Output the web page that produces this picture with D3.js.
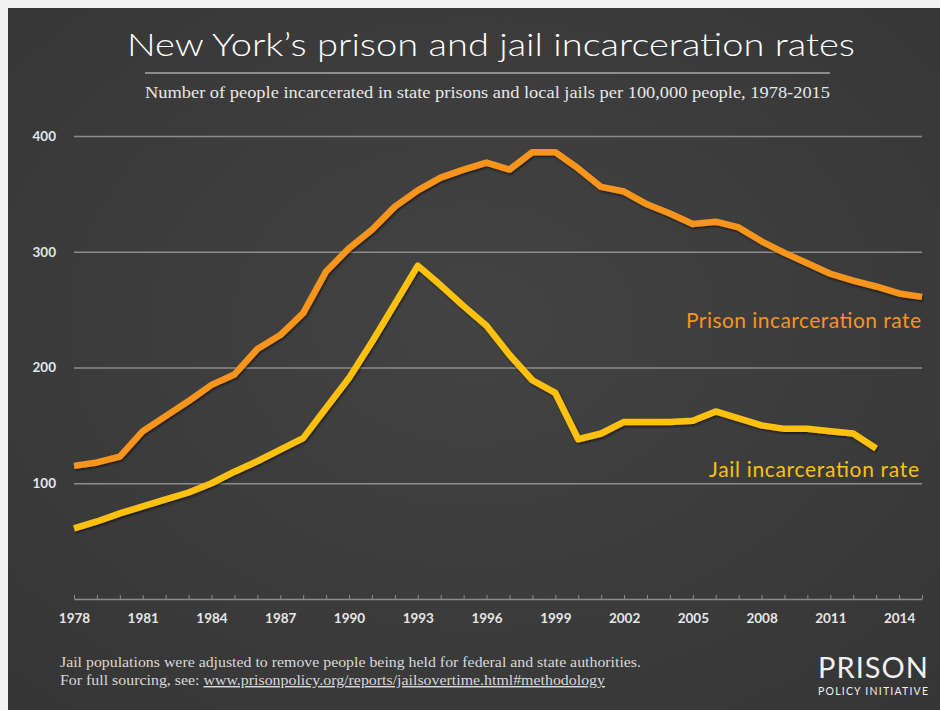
<!DOCTYPE html>
<html>
<head>
<meta charset="utf-8">
<script src="https://cdnjs.cloudflare.com/ajax/libs/d3/7.8.5/d3.min.js"></script>
<style>
	body { margin: 0; background: #fff; }
	svg { display: block; }
</style>
</head>
<body>
<script>
// Data (rate per 100,000 people)
var years = d3.range(1978, 2016);
var prison = [115, 118, 123, 145, 158, 171, 185, 194, 216, 228, 247, 283,
	303, 319, 339, 353, 364, 371, 377, 371, 386, 386, 372, 356, 352, 341,
	333, 324, 326, 321, 309, 299, 290, 281, 275, 270, 264, 261];
var jail = [61, 67, 74, 80, 86, 92, 100, 110, 119, 129, 139, 165,
	191, 222, 255, 288, 271, 253, 236, 211, 189, 178, 138, 143, 153, 153,
	153, 154, 162, 156, 150, 147, 147, 145, 143, 130];
var yTicks = [100, 200, 300, 400];
var xLabelYears = d3.range(1978, 2015, 3);

// Global variables
var W = 940,
	H = 710,
	orange = "#f7941d",
	yellow = "#fcc00f",
	gridCol = "#8c8c8c",
	geo = "Lato, 'DejaVu Sans', sans-serif",
	serif = "'Liberation Serif', 'DejaVu Serif', serif";

var svg = d3.select("body")
	.append("svg")
	.attr("width", W)
	.attr("height", H);

var defs = svg.append("defs");
var bg = defs.append("radialGradient")
	.attr("id", "bg")
	.attr("cx", "50%").attr("cy", "45%").attr("r", "70%");
bg.append("stop").attr("offset", "0%").attr("stop-color", "#434343");
bg.append("stop").attr("offset", "100%").attr("stop-color", "#363636");

var shadow = defs.append("filter")
	.attr("id", "shadow")
	.attr("x", "-5%").attr("y", "-5%")
	.attr("width", "110%").attr("height", "110%");
shadow.append("feDropShadow")
	.attr("dx", 1)
	.attr("dy", 1.5)
	.attr("stdDeviation", 1.2)
	.attr("flood-color", "#000")
	.attr("flood-opacity", 0.6);

// Frame: light strip on top and left, dark panel
svg.append("rect")
	.attr("width", W).attr("height", H)
	.attr("fill", "#f2f2f2");
svg.append("rect")
	.attr("x", 8).attr("y", 8)
	.attr("width", W - 8).attr("height", H - 8)
	.attr("fill", "url(#bg)");

// Scales
var x = d3.scaleLinear().domain([1978, 2015]).range([74, 922]);
var y = d3.scaleLinear().domain([0, 400]).range([599, 136]);

// Gridlines + y labels
var yAxis = svg.append("g")
	.attr("transform", "translate(74,0)")
	.call(d3.axisLeft(y)
		.tickValues(yTicks)
		.tickSize(-(x.range()[1] - x.range()[0]))
		.tickPadding(18));
yAxis.select(".domain").remove();
yAxis.selectAll(".tick line")
	.attr("stroke", gridCol)
	.attr("stroke-width", 1.5);
yAxis.selectAll(".tick text")
	.attr("fill", "#e6e6e6")
	.attr("font-family", geo)
	.attr("font-weight", "bold")
	.attr("font-size", "13.5px");

// x axis with yearly ticks
var xAxis = svg.append("g")
	.attr("transform", "translate(0," + y(0) + ")")
	.call(d3.axisBottom(x)
		.tickValues(years)
		.tickSizeInner(-4)
		.tickSizeOuter(0)
		.tickPadding(14)
		.tickFormat(function(d) { return xLabelYears.indexOf(d) >= 0 ? d : ""; }));
xAxis.select(".domain")
	.attr("stroke", gridCol)
	.attr("stroke-width", 1.5);
xAxis.selectAll(".tick line")
	.attr("stroke", gridCol)
	.attr("stroke-width", 1);
xAxis.selectAll(".tick text")
	.attr("fill", "#e6e6e6")
	.attr("font-family", geo)
	.attr("font-weight", "bold")
	.attr("font-size", "13.5px");

// Lines
var line = d3.line()
	.x(function(d, i) { return x(years[i]); })
	.y(function(d) { return y(d); });

svg.append("path")
	.datum(prison)
	.attr("d", line)
	.attr("fill", "none")
	.attr("stroke", orange)
	.attr("stroke-width", 6.5)
	.attr("stroke-linejoin", "round")
	.attr("filter", "url(#shadow)");
svg.append("path")
	.datum(jail)
	.attr("d", line)
	.attr("fill", "none")
	.attr("stroke", yellow)
	.attr("stroke-width", 6.5)
	.attr("stroke-linejoin", "round")
	.attr("filter", "url(#shadow)");

// Line labels
svg.append("text")
	.text("Prison incarceration rate")
	.attr("x", x(2015) - 1)
	.attr("y", 328)
	.attr("text-anchor", "end")
	.attr("fill", orange)
	.attr("font-family", geo)
	.attr("font-size", "21px")
	.attr("textLength", 235);
svg.append("text")
	.text("Jail incarceration rate")
	.attr("x", x(2015) - 3)
	.attr("y", 477)
	.attr("text-anchor", "end")
	.attr("fill", yellow)
	.attr("font-family", geo)
	.attr("font-size", "21px")
	.attr("textLength", 210);

// Title and subtitle
svg.append("text")
	.text("New York\u2019s prison and jail incarceration rates")
	.attr("x", 127)
	.attr("y", 56)
	.attr("fill", "#fff")
	.attr("font-family", geo)
	.attr("font-weight", 300)
	.attr("font-size", "32px")
	.attr("textLength", 728)
	.attr("lengthAdjust", "spacingAndGlyphs");
svg.append("line")
	.attr("x1", 145).attr("x2", 830)
	.attr("y1", 73).attr("y2", 73)
	.attr("stroke", "#a8a8a8")
	.attr("stroke-width", 1.5);
svg.append("text")
	.text("Number of people incarcerated in state prisons and local jails per 100,000 people, 1978-2015")
	.attr("x", 145)
	.attr("y", 98)
	.attr("fill", "#e8e8e8")
	.attr("font-family", serif)
	.attr("font-size", "16px")
	.attr("textLength", 685)
	.attr("lengthAdjust", "spacingAndGlyphs");

// Footer notes
svg.append("text")
	.text("Jail populations were adjusted to remove people being held for federal and state authorities.")
	.attr("x", 60)
	.attr("y", 667)
	.attr("fill", "#d8d8d8")
	.attr("font-family", serif)
	.attr("font-size", "14.5px")
	.attr("textLength", 581)
	.attr("lengthAdjust", "spacingAndGlyphs");
var src = svg.append("text")
	.attr("x", 60)
	.attr("y", 685)
	.attr("fill", "#d8d8d8")
	.attr("font-family", serif)
	.attr("font-size", "14.5px")
	.attr("textLength", 545)
	.attr("lengthAdjust", "spacingAndGlyphs");
src.append("tspan").text("For full sourcing, see: ");
src.append("tspan")
	.text("www.prisonpolicy.org/reports/jailsovertime.html#methodology")
	.attr("text-decoration", "underline");

// Logo
svg.append("text")
	.text("PRISON")
	.attr("x", 818)
	.attr("y", 678)
	.attr("fill", "#f0f0f0")
	.attr("font-family", geo)
	.attr("font-size", "29px")
	.attr("textLength", 110);
svg.append("text")
	.text("POLICY INITIATIVE")
	.attr("x", 818)
	.attr("y", 695)
	.attr("fill", "#f0f0f0")
	.attr("font-family", geo)
	.attr("font-size", "10.5px")
	.attr("textLength", 110);
</script>
</body>
</html>
